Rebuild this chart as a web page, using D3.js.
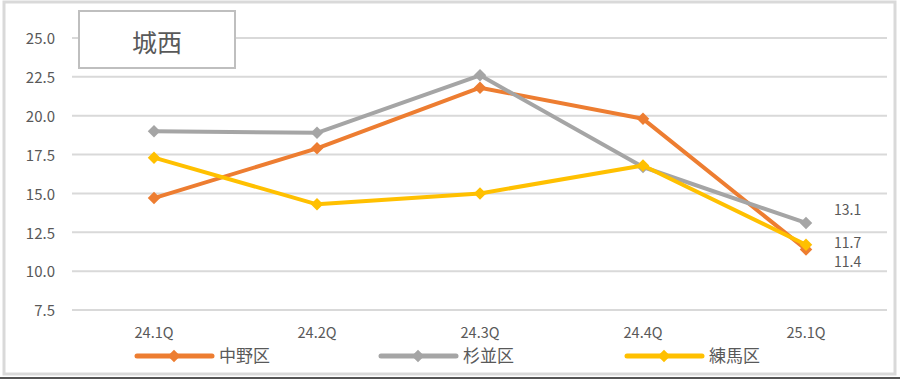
<!DOCTYPE html>
<html lang="ja">
<head>
<meta charset="UTF-8">
<title>城西</title>
<script src="https://cdn.jsdelivr.net/npm/d3@7"></script>
<style>
  body { margin: 0; background: #fff; }
  svg text { font-family: "Noto Sans CJK JP", "Noto Sans", sans-serif; fill: #595959; }
</style>
</head>
<body>
<script>
const quarters = ["24.1Q", "24.2Q", "24.3Q", "24.4Q", "25.1Q"];
const nakano = [14.7, 17.9, 21.8, 19.8, 11.4];
const suginami = [19.0, 18.9, 22.6, 16.7, 13.1];
const nerima = [17.3, 14.3, 15.0, 16.8, 11.7];
const yTicks = [7.5, 10.0, 12.5, 15.0, 17.5, 20.0, 22.5, 25.0];

const series = [
  { name: "中野区", values: nakano, color: "#ed7d31", labelDy: 13 },
  { name: "杉並区", values: suginami, color: "#a5a5a5", labelDy: -13 },
  { name: "練馬区", values: nerima, color: "#ffc000", labelDy: -2 }
];

const W = 900, H = 380;
const svg = d3.select("body").append("svg").attr("width", W).attr("height", H);

// chart frame
svg.append("rect").attr("x", 4).attr("y", 2).attr("width", 891).attr("height", 372)
  .attr("fill", "#fff").attr("stroke", "#d9d9d9").attr("stroke-width", 3);
svg.append("line").attr("x1", 0).attr("x2", W).attr("y1", 378).attr("y2", 378)
  .attr("stroke", "#555").attr("stroke-width", 2);

const x = d3.scalePoint().domain(quarters).range([154, 806]);
const y = d3.scaleLinear().domain([7.5, 25]).range([310, 38]);

// gridlines
svg.append("g").selectAll("line").data(yTicks).join("line")
  .attr("x1", 72).attr("x2", 887)
  .attr("y1", d => y(d)).attr("y2", d => y(d))
  .attr("stroke", "#d9d9d9").attr("stroke-width", 2);

// y axis labels
svg.append("g").selectAll("text").data(yTicks).join("text")
  .attr("x", 55).attr("y", d => y(d) + 1).attr("dy", "0.35em")
  .attr("text-anchor", "end").attr("font-size", 15)
  .text(d => d.toFixed(1));

// x axis labels
svg.append("g").selectAll("text").data(quarters).join("text")
  .attr("x", d => x(d)).attr("y", 333).attr("dy", "0.35em")
  .attr("text-anchor", "middle").attr("font-size", 14.5)
  .text(d => d);

const diamond = d3.symbol().type(d3.symbolDiamond2).size(100);
const line = d3.line().x((d, i) => x(quarters[i])).y(d => y(d));

series.forEach(s => {
  const g = svg.append("g");
  g.append("path").datum(s.values)
    .attr("d", line).attr("fill", "none")
    .attr("stroke", s.color).attr("stroke-width", 4)
    .attr("stroke-linejoin", "round").attr("stroke-linecap", "round");
  g.selectAll("path.m").data(s.values).join("path").attr("class", "m")
    .attr("transform", (d, i) => `translate(${x(quarters[i])},${y(d)})`)
    .attr("d", diamond).attr("fill", s.color);
  // last value label
  const last = s.values[s.values.length - 1];
  g.append("text")
    .attr("x", 834).attr("y", y(last) + s.labelDy).attr("dy", "0.35em")
    .attr("font-size", 14).text(last.toFixed(1));
});

// title box
svg.append("rect").attr("x", 79).attr("y", 11).attr("width", 156).attr("height", 57)
  .attr("fill", "#fff").attr("stroke", "#bfbfbf").attr("stroke-width", 2);
svg.append("text").attr("x", 157).attr("y", 43).attr("dy", "0.35em")
  .attr("text-anchor", "middle").attr("font-size", 25).text("城西");

// legend
const legendX = [137, 381, 627];
series.forEach((s, i) => {
  const g = svg.append("g").attr("transform", `translate(${legendX[i]},356)`);
  g.append("line").attr("x1", 0).attr("x2", 75)
    .attr("stroke", s.color).attr("stroke-width", 5).attr("stroke-linecap", "round");
  g.append("path").attr("transform", "translate(37,0)").attr("d", diamond).attr("fill", s.color);
  g.append("text").attr("x", 82).attr("y", 0).attr("dy", "0.35em")
    .attr("font-size", 17).text(s.name);
});
</script>
</body>
</html>
